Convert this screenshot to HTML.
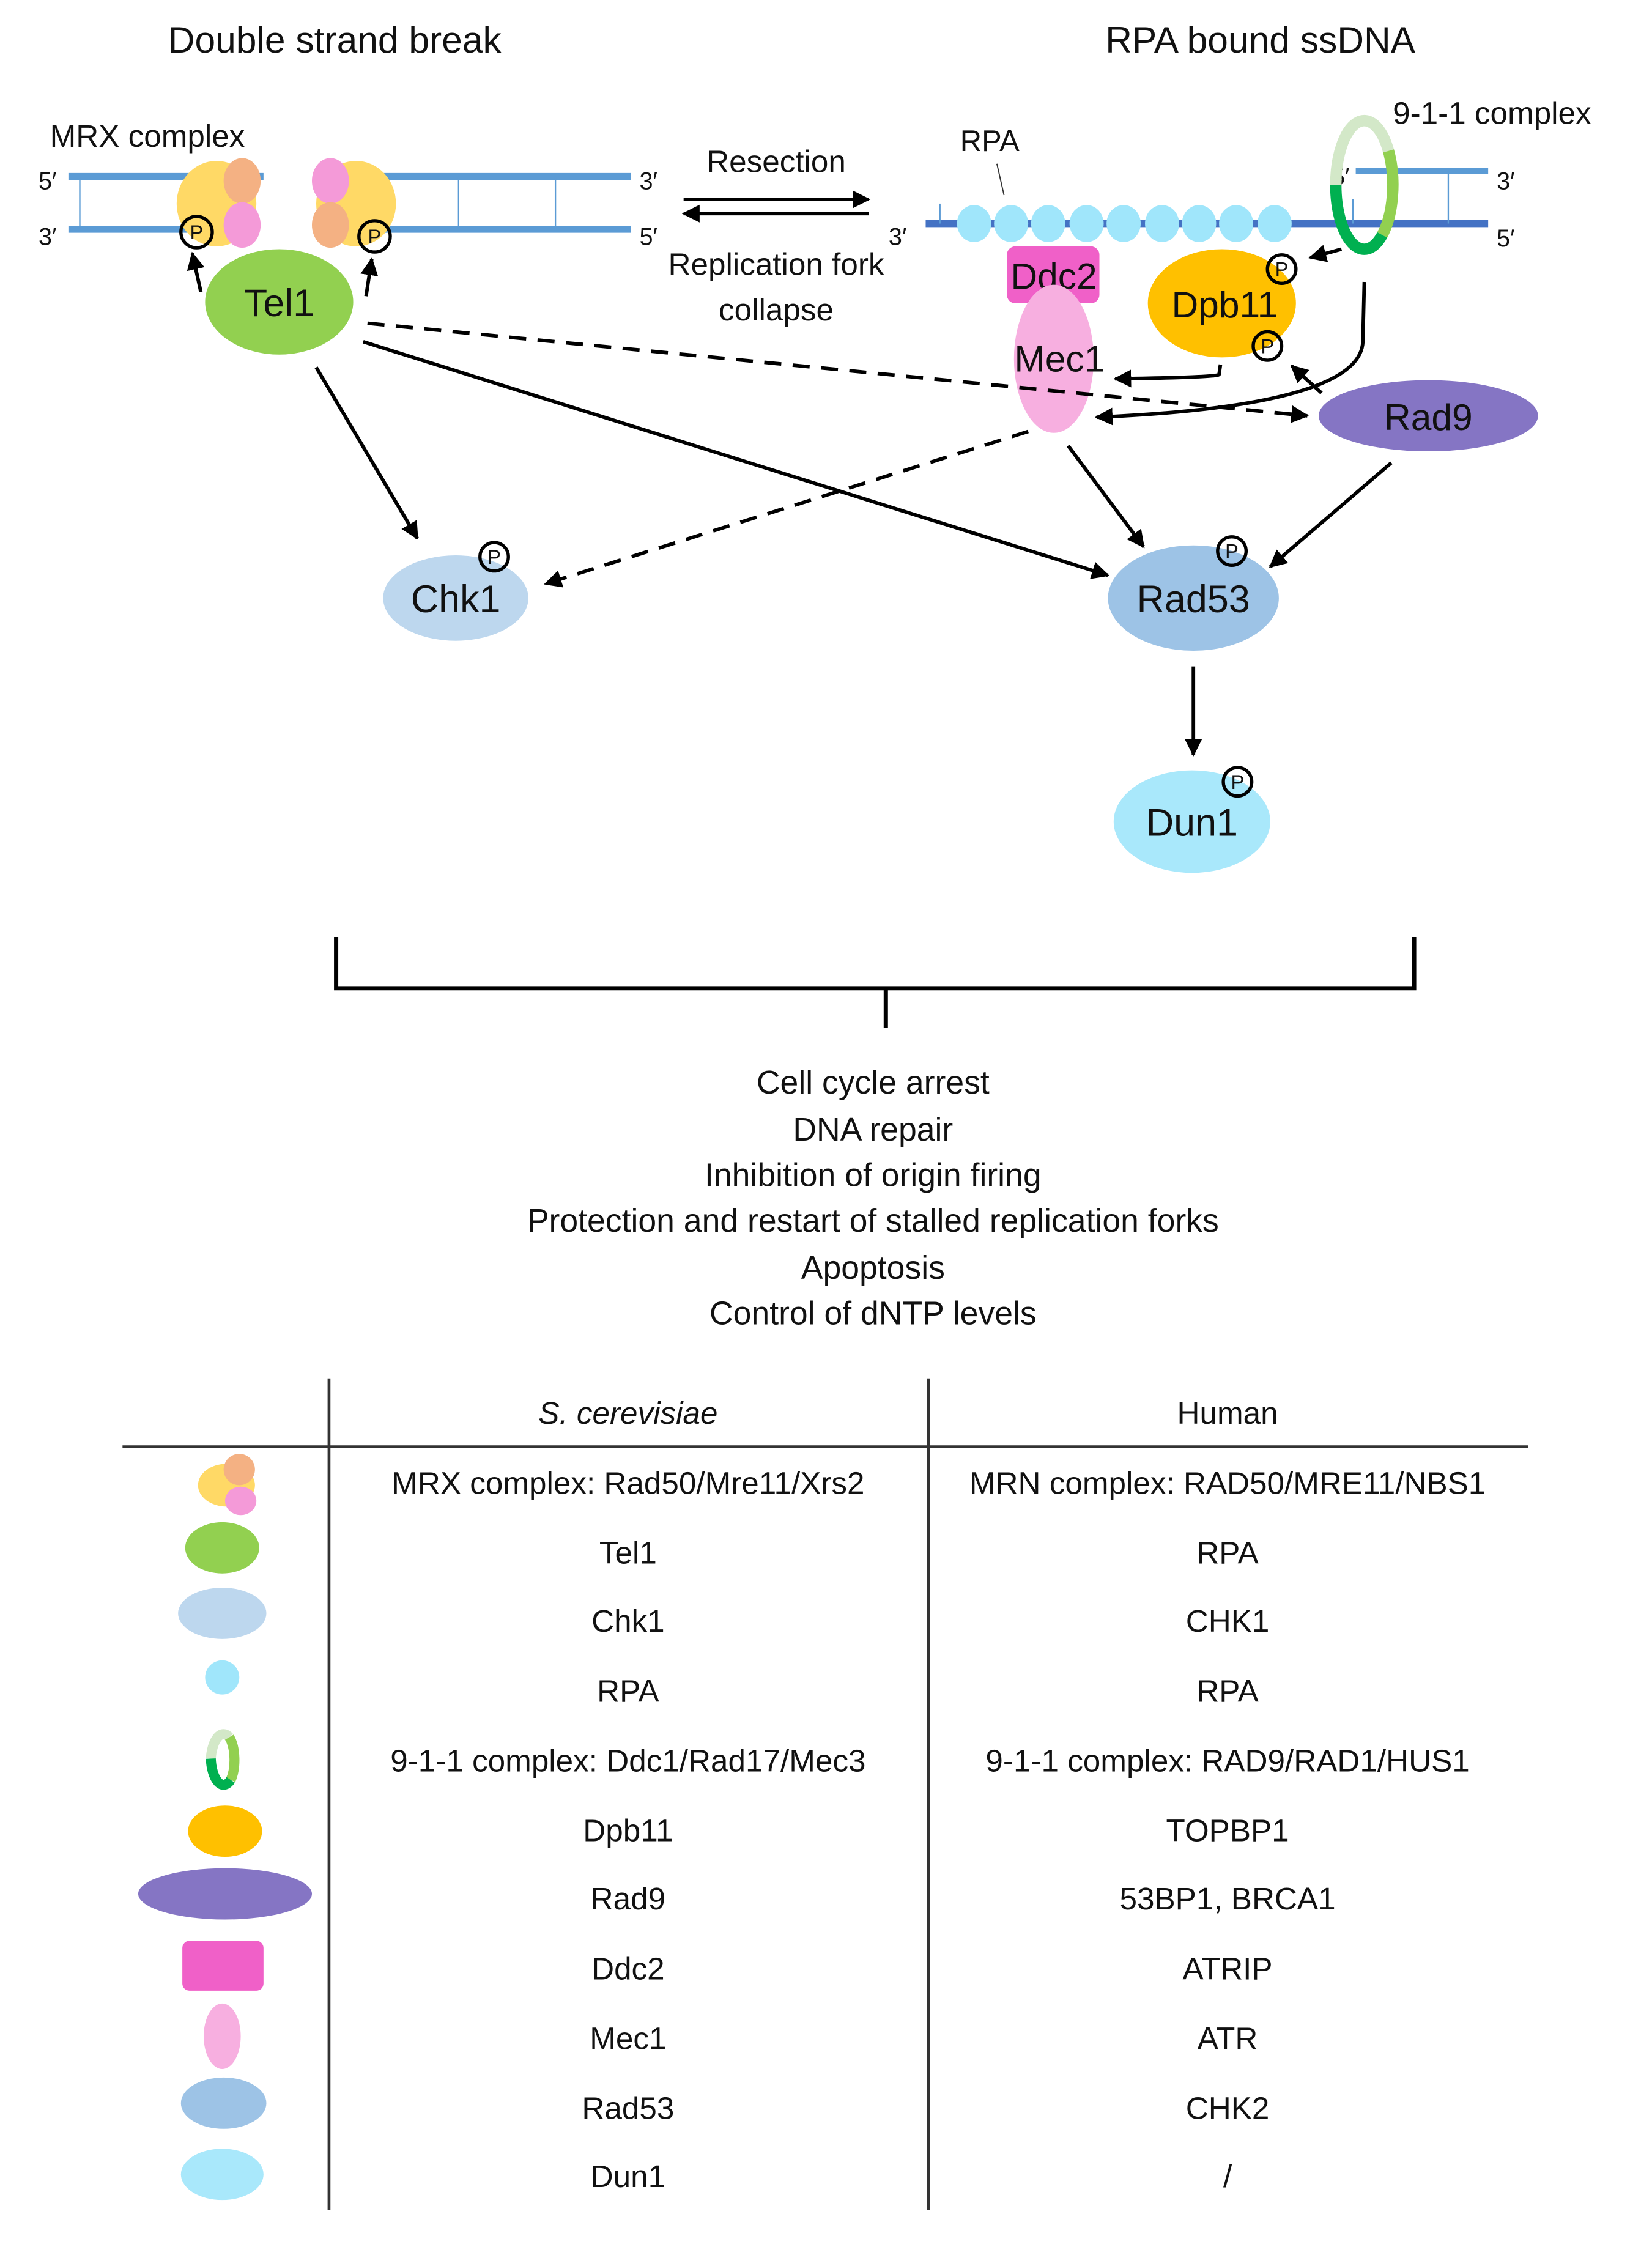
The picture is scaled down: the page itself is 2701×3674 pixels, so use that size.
<!DOCTYPE html>
<html><head><meta charset="utf-8"><style>
html,body{margin:0;padding:0;background:#fff}
svg{display:block}
text{font-family:"Liberation Sans",sans-serif;fill:#111}
</style></head><body>
<svg width="2701" height="3674" viewBox="0 0 1160 1578" xmlns="http://www.w3.org/2000/svg">
<defs>
<marker id="ah" viewBox="0 0 10 10" refX="9" refY="5" markerWidth="5" markerHeight="5" orient="auto-start-reverse"><path d="M0,0 L10,5 L0,10 z" fill="#000"/></marker>
</defs>
<text x="235" y="37" font-size="26" text-anchor="middle">Double strand break</text>
<text x="885" y="37" font-size="26" text-anchor="middle">RPA bound ssDNA</text>

<text x="35" y="103" font-size="22">MRX complex</text>
<g stroke="#5b9bd5" stroke-width="5"><line x1="48" y1="124" x2="185" y2="124"/><line x1="220" y1="124" x2="443" y2="124"/><line x1="48" y1="161" x2="175" y2="161"/><line x1="230" y1="161" x2="443" y2="161"/></g>
<g stroke="#5b9bd5" stroke-width="1"><line x1="56" y1="124" x2="56" y2="161"/><line x1="255" y1="124" x2="255" y2="161"/><line x1="322" y1="124" x2="322" y2="161"/><line x1="390" y1="124" x2="390" y2="161"/></g>
<g font-size="17"><text x="27" y="133">5′</text><text x="27" y="172">3′</text><text x="449" y="133">3′</text><text x="449" y="172">5′</text></g>
<ellipse cx="152" cy="143" rx="28" ry="30" fill="#ffd966"/>
<ellipse cx="170" cy="127" rx="13" ry="16" fill="#f4b183"/>
<ellipse cx="170" cy="158" rx="13" ry="16" fill="#f49ad8"/>
<ellipse cx="250" cy="143" rx="28" ry="30" fill="#ffd966"/>
<ellipse cx="232" cy="127" rx="13" ry="16" fill="#f49ad8"/>
<ellipse cx="232" cy="158" rx="13" ry="16" fill="#f4b183"/>
<ellipse cx="196" cy="212" rx="52" ry="37" fill="#92d050"/>
<text x="196" y="222" font-size="27" text-anchor="middle">Tel1</text>
<g stroke="#000" stroke-width="2.5" fill="none" marker-end="url(#ah)"><line x1="141" y1="205" x2="135" y2="178"/><line x1="257" y1="208" x2="261" y2="182"/></g>

<text x="545" y="121" font-size="22" text-anchor="middle">Resection</text>
<g stroke="#000" stroke-width="2.5" marker-end="url(#ah)"><line x1="480" y1="140" x2="610" y2="140"/><line x1="610" y1="150" x2="480" y2="150"/></g>
<text x="545" y="193" font-size="22" text-anchor="middle">Replication fork</text>
<text x="545" y="225" font-size="22" text-anchor="middle">collapse</text>

<line x1="650" y1="157" x2="1045" y2="157" stroke="#4472c4" stroke-width="5"/>
<line x1="952" y1="120" x2="1045" y2="120" stroke="#5b9bd5" stroke-width="4"/>
<g stroke="#5b9bd5" stroke-width="1"><line x1="1017" y1="120" x2="1017" y2="157"/><line x1="660" y1="143" x2="660" y2="157"/><line x1="950" y1="140" x2="950" y2="157"/></g>
<g fill="#a0e6fb"><ellipse cx="684" cy="157" rx="12" ry="13"/><ellipse cx="710" cy="157" rx="12" ry="13"/><ellipse cx="736" cy="157" rx="12" ry="13"/><ellipse cx="763" cy="157" rx="12" ry="13"/><ellipse cx="789" cy="157" rx="12" ry="13"/><ellipse cx="816" cy="157" rx="12" ry="13"/><ellipse cx="842" cy="157" rx="12" ry="13"/><ellipse cx="868" cy="157" rx="12" ry="13"/><ellipse cx="895" cy="157" rx="12" ry="13"/></g>
<text x="695" y="106" font-size="21" text-anchor="middle">RPA</text>
<line x1="700" y1="115" x2="705" y2="137" stroke="#333" stroke-width="0.8"/>
<g font-size="17"><text x="624" y="172">3′</text><text x="1051" y="133">3′</text><text x="1051" y="173">5′</text><text x="935" y="130">5′</text></g>
<g fill="none" stroke-width="8">
<path d="M938,130 A20,45 0 0 1 975,106" stroke="#d3e8c8"/>
<path d="M975,106 A20,45 0 0 1 970.6,165" stroke="#92d050"/>
<path d="M970.6,165 A20,45 0 0 1 938,130" stroke="#00b050"/>
</g>
<text x="978" y="87" font-size="22">9-1-1 complex</text>

<rect x="707" y="173" width="65" height="40" rx="6" fill="#f060c8"/>
<text x="740" y="203" font-size="26" text-anchor="middle">Ddc2</text>
<ellipse cx="740" cy="252" rx="28" ry="52" fill="#f7afe0"/>
<text x="744" y="261" font-size="26" text-anchor="middle">Mec1</text>
<ellipse cx="858" cy="213" rx="52" ry="38" fill="#ffc000"/>
<text x="860" y="223" font-size="26" text-anchor="middle">Dpb11</text>
<ellipse cx="1003" cy="292" rx="77" ry="25" fill="#8575c4"/>
<text x="1003" y="302" font-size="26" text-anchor="middle">Rad9</text>

<ellipse cx="320" cy="420" rx="51" ry="30" fill="#bdd7ee"/>
<text x="320" y="430" font-size="27" text-anchor="middle">Chk1</text>
<ellipse cx="838" cy="420" rx="60" ry="37" fill="#9dc3e6"/>
<text x="838" y="430" font-size="27" text-anchor="middle">Rad53</text>
<ellipse cx="837" cy="577" rx="55" ry="36" fill="#a9e8fb"/>
<text x="837" y="587" font-size="27" text-anchor="middle">Dun1</text>

<g fill="none" stroke="#000" stroke-width="2.3"><circle cx="138" cy="163" r="11"/><circle cx="263" cy="166" r="11"/><circle cx="900" cy="189" r="10"/><circle cx="890" cy="243" r="10"/><circle cx="347" cy="391" r="10"/><circle cx="865" cy="387" r="10"/><circle cx="869" cy="549" r="10"/></g>
<g font-size="14" text-anchor="middle"><text x="138" y="168">P</text><text x="263" y="171">P</text><text x="900" y="194">P</text><text x="890" y="248">P</text><text x="347" y="396">P</text><text x="865" y="392">P</text><text x="869" y="554">P</text></g>

<g stroke="#000" stroke-width="2.5" fill="none" marker-end="url(#ah)">
<line x1="222" y1="258" x2="293" y2="378"/>
<line x1="255" y1="240" x2="778" y2="404"/>
<line x1="258" y1="227" x2="918" y2="292" stroke-dasharray="12,8"/>
<line x1="722" y1="303" x2="383" y2="410" stroke-dasharray="12,8"/>
<line x1="750" y1="313" x2="803" y2="384"/>
<line x1="977" y1="325" x2="892" y2="398"/>
<line x1="838" y1="468" x2="838" y2="530"/>
<line x1="942" y1="175" x2="920" y2="181"/>
<path d="M857,256 L856,263 Q855,265 783,266"/>
<path d="M958,198 L957,240 Q955,285 770,293"/>
<line x1="928" y1="276" x2="907" y2="257"/>
</g>

<path d="M236,658 L236,694 L993,694 L993,658 M622,694 L622,722" stroke="#000" stroke-width="3" fill="none"/>
<g font-size="23" text-anchor="middle">
<text x="613" y="768">Cell cycle arrest</text>
<text x="613" y="801">DNA repair</text>
<text x="613" y="833">Inhibition of origin firing</text>
<text x="613" y="865">Protection and restart of stalled replication forks</text>
<text x="613" y="898">Apoptosis</text>
<text x="613" y="930">Control of dNTP levels</text>
</g>

<g stroke="#333" stroke-width="2"><line x1="231" y1="968" x2="231" y2="1552"/><line x1="652" y1="968" x2="652" y2="1552"/><line x1="86" y1="1016" x2="1073" y2="1016"/></g>
<g font-size="22" text-anchor="middle">
<text x="441" y="1000" font-style="italic">S. cerevisiae</text><text x="862" y="1000">Human</text>
<text x="441" y="1049">MRX complex: Rad50/Mre11/Xrs2</text><text x="862" y="1049">MRN complex: RAD50/MRE11/NBS1</text>
<text x="441" y="1098">Tel1</text><text x="862" y="1098">RPA</text>
<text x="441" y="1146">Chk1</text><text x="862" y="1146">CHK1</text>
<text x="441" y="1195">RPA</text><text x="862" y="1195">RPA</text>
<text x="441" y="1244">9-1-1 complex: Ddc1/Rad17/Mec3</text><text x="862" y="1244">9-1-1 complex: RAD9/RAD1/HUS1</text>
<text x="441" y="1293">Dpb11</text><text x="862" y="1293">TOPBP1</text>
<text x="441" y="1341">Rad9</text><text x="862" y="1341">53BP1, BRCA1</text>
<text x="441" y="1390">Ddc2</text><text x="862" y="1390">ATRIP</text>
<text x="441" y="1439">Mec1</text><text x="862" y="1439">ATR</text>
<text x="441" y="1488">Rad53</text><text x="862" y="1488">CHK2</text>
<text x="441" y="1536">Dun1</text><text x="862" y="1536">/</text>
</g>
<ellipse cx="159" cy="1043" rx="20" ry="15" fill="#ffd966"/>
<circle cx="168" cy="1032" r="11" fill="#f4b183"/>
<ellipse cx="169" cy="1054" rx="11" ry="10" fill="#f49ad8"/>
<ellipse cx="156" cy="1087" rx="26" ry="18" fill="#92d050"/>
<ellipse cx="156" cy="1133" rx="31" ry="18" fill="#bdd7ee"/>
<circle cx="156" cy="1178" r="12" fill="#a0e6fb"/>
<g fill="none" stroke-width="7">
<path d="M148,1235 A9,20 0 0 1 161,1220" stroke="#d3e8c8"/>
<path d="M161,1220 A9,20 0 0 1 162,1250" stroke="#92d050"/>
<path d="M162,1250 A9,20 0 0 1 148,1235" stroke="#00b050"/>
</g>
<ellipse cx="158" cy="1286" rx="26" ry="18" fill="#ffc000"/>
<ellipse cx="158" cy="1330" rx="61" ry="18" fill="#8575c4"/>
<rect x="128" y="1363" width="57" height="35" rx="5" fill="#f060c8"/>
<ellipse cx="156" cy="1430" rx="13" ry="23" fill="#f7afe0"/>
<ellipse cx="157" cy="1477" rx="30" ry="18" fill="#9dc3e6"/>
<ellipse cx="156" cy="1527" rx="29" ry="18" fill="#a9e8fb"/>
</svg>
</body></html>
